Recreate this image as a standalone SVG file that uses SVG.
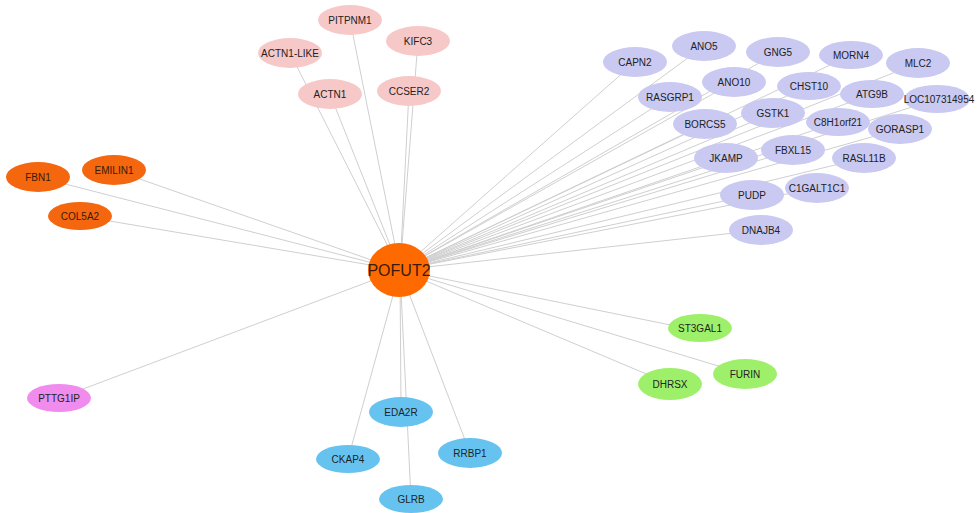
<svg xmlns="http://www.w3.org/2000/svg" width="979" height="513" viewBox="0 0 979 513">
<style>
.e{stroke:#cfcfcf;stroke-width:1;fill:none}
.n ellipse{stroke:none}
.pk ellipse{fill:#f7c8c8}
.pu ellipse{fill:#c9c9f2}
.or ellipse{fill:#f4670f}
.gr ellipse{fill:#9ef06a}
.bl ellipse{fill:#66c3f0}
.mg ellipse{fill:#ef8cee}
text{font-family:"Liberation Sans",Arial,sans-serif;font-size:10px;fill:#222;text-anchor:middle;dominant-baseline:central}
.or text{fill:#3a1a0a}
</style>
<rect width="979" height="513" fill="#fff"/>
<g id="edges">
<line class="e" x1="400" y1="270" x2="350" y2="20"/>
<line class="e" x1="400" y1="270" x2="418" y2="41"/>
<line class="e" x1="400" y1="270" x2="290" y2="53"/>
<line class="e" x1="400" y1="270" x2="330" y2="94"/>
<line class="e" x1="400" y1="270" x2="409" y2="91"/>
<line class="e" x1="400" y1="270" x2="635" y2="62"/>
<line class="e" x1="400" y1="270" x2="704" y2="46"/>
<line class="e" x1="400" y1="270" x2="778" y2="52"/>
<line class="e" x1="400" y1="270" x2="851" y2="55"/>
<line class="e" x1="400" y1="270" x2="918" y2="63"/>
<line class="e" x1="400" y1="270" x2="734" y2="82"/>
<line class="e" x1="400" y1="270" x2="670" y2="97"/>
<line class="e" x1="400" y1="270" x2="809" y2="86"/>
<line class="e" x1="400" y1="270" x2="872" y2="94"/>
<line class="e" x1="400" y1="270" x2="937" y2="99"/>
<line class="e" x1="400" y1="270" x2="773" y2="113"/>
<line class="e" x1="400" y1="270" x2="705" y2="124"/>
<line class="e" x1="400" y1="270" x2="838" y2="122"/>
<line class="e" x1="400" y1="270" x2="900" y2="129"/>
<line class="e" x1="400" y1="270" x2="726" y2="158"/>
<line class="e" x1="400" y1="270" x2="793" y2="150"/>
<line class="e" x1="400" y1="270" x2="864" y2="158"/>
<line class="e" x1="400" y1="270" x2="817" y2="188"/>
<line class="e" x1="400" y1="270" x2="752" y2="195"/>
<line class="e" x1="400" y1="270" x2="761" y2="230"/>
<line class="e" x1="400" y1="270" x2="38" y2="177"/>
<line class="e" x1="400" y1="270" x2="114" y2="170"/>
<line class="e" x1="400" y1="270" x2="80" y2="216"/>
<line class="e" x1="400" y1="270" x2="700" y2="331"/>
<line class="e" x1="400" y1="270" x2="745" y2="374"/>
<line class="e" x1="400" y1="270" x2="670" y2="384"/>
<line class="e" x1="400" y1="270" x2="401" y2="411"/>
<line class="e" x1="400" y1="270" x2="348" y2="459"/>
<line class="e" x1="400" y1="270" x2="470" y2="453"/>
<line class="e" x1="400" y1="270" x2="411" y2="499"/>
<line class="e" x1="400" y1="270" x2="59" y2="398"/>
</g>
<g id="PITPNM1" class="n pk"><ellipse cx="350" cy="20" rx="32" ry="15"/><text x="350" y="20">PITPNM1</text></g>
<g id="KIFC3" class="n pk"><ellipse cx="418" cy="41" rx="32" ry="15"/><text x="418" y="41">KIFC3</text></g>
<g id="ACTN1-LIKE" class="n pk"><ellipse cx="290" cy="53" rx="32" ry="15"/><text x="290" y="53">ACTN1-LIKE</text></g>
<g id="ACTN1" class="n pk"><ellipse cx="330" cy="94" rx="32" ry="15"/><text x="330" y="94">ACTN1</text></g>
<g id="CCSER2" class="n pk"><ellipse cx="409" cy="91" rx="32" ry="15"/><text x="409" y="91">CCSER2</text></g>
<g id="CAPN2" class="n pu"><ellipse cx="635" cy="62" rx="32" ry="15"/><text x="635" y="62">CAPN2</text></g>
<g id="ANO5" class="n pu"><ellipse cx="704" cy="46" rx="32" ry="15"/><text x="704" y="46">ANO5</text></g>
<g id="GNG5" class="n pu"><ellipse cx="778" cy="52" rx="32" ry="15"/><text x="778" y="52">GNG5</text></g>
<g id="MORN4" class="n pu"><ellipse cx="851" cy="55" rx="32" ry="14"/><text x="851" y="55">MORN4</text></g>
<g id="MLC2" class="n pu"><ellipse cx="918" cy="63" rx="32" ry="15"/><text x="918" y="63">MLC2</text></g>
<g id="ANO10" class="n pu"><ellipse cx="734" cy="82" rx="32" ry="15"/><text x="734" y="82">ANO10</text></g>
<g id="RASGRP1" class="n pu"><ellipse cx="670" cy="97" rx="32" ry="15"/><text x="670" y="97">RASGRP1</text></g>
<g id="CHST10" class="n pu"><ellipse cx="809" cy="86" rx="32" ry="14"/><text x="809" y="86">CHST10</text></g>
<g id="ATG9B" class="n pu"><ellipse cx="872" cy="94" rx="32" ry="14"/><text x="872" y="94">ATG9B</text></g>
<g id="LOC107314954" class="n pu"><ellipse cx="937" cy="99" rx="33" ry="14"/><text x="939" y="99">LOC107314954</text></g>
<g id="GSTK1" class="n pu"><ellipse cx="773" cy="113" rx="32" ry="15"/><text x="773" y="113">GSTK1</text></g>
<g id="BORCS5" class="n pu"><ellipse cx="705" cy="124" rx="32" ry="15"/><text x="705" y="124">BORCS5</text></g>
<g id="C8H1orf21" class="n pu"><ellipse cx="838" cy="122" rx="32" ry="14"/><text x="838" y="122">C8H1orf21</text></g>
<g id="GORASP1" class="n pu"><ellipse cx="900" cy="129" rx="32" ry="15"/><text x="900" y="129">GORASP1</text></g>
<g id="JKAMP" class="n pu"><ellipse cx="726" cy="158" rx="32" ry="15"/><text x="726" y="158">JKAMP</text></g>
<g id="FBXL15" class="n pu"><ellipse cx="793" cy="150" rx="32" ry="15"/><text x="793" y="150">FBXL15</text></g>
<g id="RASL11B" class="n pu"><ellipse cx="864" cy="158" rx="32" ry="15"/><text x="864" y="158">RASL11B</text></g>
<g id="C1GALT1C1" class="n pu"><ellipse cx="817" cy="188" rx="32" ry="15"/><text x="817" y="188">C1GALT1C1</text></g>
<g id="PUDP" class="n pu"><ellipse cx="752" cy="195" rx="32" ry="15"/><text x="752" y="195">PUDP</text></g>
<g id="DNAJB4" class="n pu"><ellipse cx="761" cy="230" rx="32" ry="15"/><text x="761" y="230">DNAJB4</text></g>
<g id="FBN1" class="n or"><ellipse cx="38" cy="177" rx="32" ry="15"/><text x="38" y="177">FBN1</text></g>
<g id="EMILIN1" class="n or"><ellipse cx="114" cy="170" rx="32" ry="15"/><text x="114" y="170">EMILIN1</text></g>
<g id="COL5A2" class="n or"><ellipse cx="80" cy="216" rx="32" ry="14"/><text x="80" y="216">COL5A2</text></g>
<g id="ST3GAL1" class="n gr"><ellipse cx="700" cy="328" rx="32" ry="14"/><text x="700" y="328">ST3GAL1</text></g>
<g id="FURIN" class="n gr"><ellipse cx="745" cy="374" rx="32" ry="15"/><text x="745" y="374">FURIN</text></g>
<g id="DHRSX" class="n gr"><ellipse cx="670" cy="384" rx="32" ry="16"/><text x="670" y="384">DHRSX</text></g>
<g id="EDA2R" class="n bl"><ellipse cx="401" cy="412" rx="32" ry="15"/><text x="401" y="412">EDA2R</text></g>
<g id="CKAP4" class="n bl"><ellipse cx="348" cy="459" rx="32" ry="14"/><text x="348" y="459">CKAP4</text></g>
<g id="RRBP1" class="n bl"><ellipse cx="470" cy="453" rx="32" ry="15"/><text x="470" y="453">RRBP1</text></g>
<g id="GLRB" class="n bl"><ellipse cx="411" cy="499" rx="32" ry="14"/><text x="411" y="499">GLRB</text></g>
<g id="PTTG1IP" class="n mg"><ellipse cx="59" cy="398" rx="32" ry="14"/><text x="59" y="398">PTTG1IP</text></g>
<g id="POFUT2" class="n"><ellipse cx="399" cy="270" rx="31" ry="27" fill="#ff6a00" stroke="#ffb070" stroke-width="1"/><text x="399" y="270" style="font-size:16px;fill:#3a1a0a">POFUT2</text></g>
</svg>
